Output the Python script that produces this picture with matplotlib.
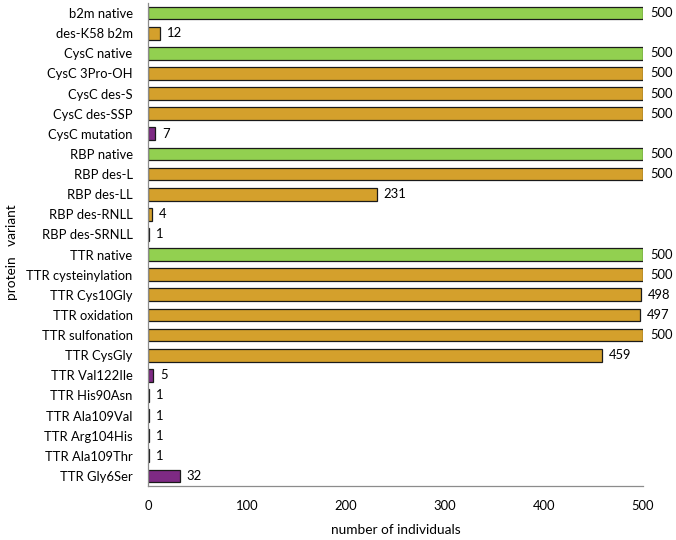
import matplotlib.pyplot as plt

variants = [
    "b2m native", "des-K58 b2m", "CysC native", "CysC 3Pro-OH", "CysC des-S",
    "CysC des-SSP", "CysC mutation", "RBP native", "RBP des-L", "RBP des-LL",
    "RBP des-RNLL", "RBP des-SRNLL", "TTR native", "TTR cysteinylation",
    "TTR Cys10Gly", "TTR oxidation", "TTR sulfonation", "TTR CysGly",
    "TTR Val122Ile", "TTR His90Asn", "TTR Ala109Val", "TTR Arg104His",
    "TTR Ala109Thr", "TTR Gly6Ser",
]
counts = [500, 12, 500, 500, 500, 500, 7, 500, 500, 231, 4, 1, 500, 500,
          498, 497, 500, 459, 5, 1, 1, 1, 1, 32]
kinds = ["native", "ptm", "native", "ptm", "ptm", "ptm", "mut", "native",
         "ptm", "ptm", "ptm", "ptm", "native", "ptm", "ptm", "ptm", "ptm",
         "ptm", "mut", "mut", "mut", "mut", "mut", "mut"]

palette = {"native": "#92D050", "ptm": "#D4A02C", "mut": "#7E2A84"}

plt.rcParams["font.family"] = ["Lato", "DejaVu Sans"]
fs = 9.4

fig = plt.figure(figsize=(6.76, 5.40), dpi=100)
ax = fig.add_axes([0.2189, 0.1, 0.7323, 0.8944])

ypos = list(range(len(variants)))
ax.barh(ypos, counts, height=0.63, color=[palette[k] for k in kinds],
        edgecolor="#1a1a1a", linewidth=0.9)
for y, c in zip(ypos, counts):
    ax.text(c + 7, y, str(c), va="center", ha="left", fontsize=fs)

ax.set_ylim(len(variants) - 0.5, -0.5)
ax.set_xlim(0, 500)
ax.set_yticks(ypos)
ax.set_yticklabels(variants, fontsize=fs)
ax.set_xticks([0, 100, 200, 300, 400, 500])
ax.tick_params(axis="both", length=0, labelsize=fs)
ax.tick_params(axis="x", pad=10)
ax.tick_params(axis="y", pad=11)

for s in ("top", "right"):
    ax.spines[s].set_visible(False)
for s in ("left", "bottom"):
    ax.spines[s].set_color("#8c8c8c")
    ax.spines[s].set_linewidth(0.9)

ax.set_xlabel("number of individuals", fontsize=fs + 0.4, labelpad=9)
fig.text(0.018, 0.533, "protein   variant", rotation=90, va="center",
         ha="center", fontsize=fs + 0.4)

fig.savefig("out.png", dpi=100)
